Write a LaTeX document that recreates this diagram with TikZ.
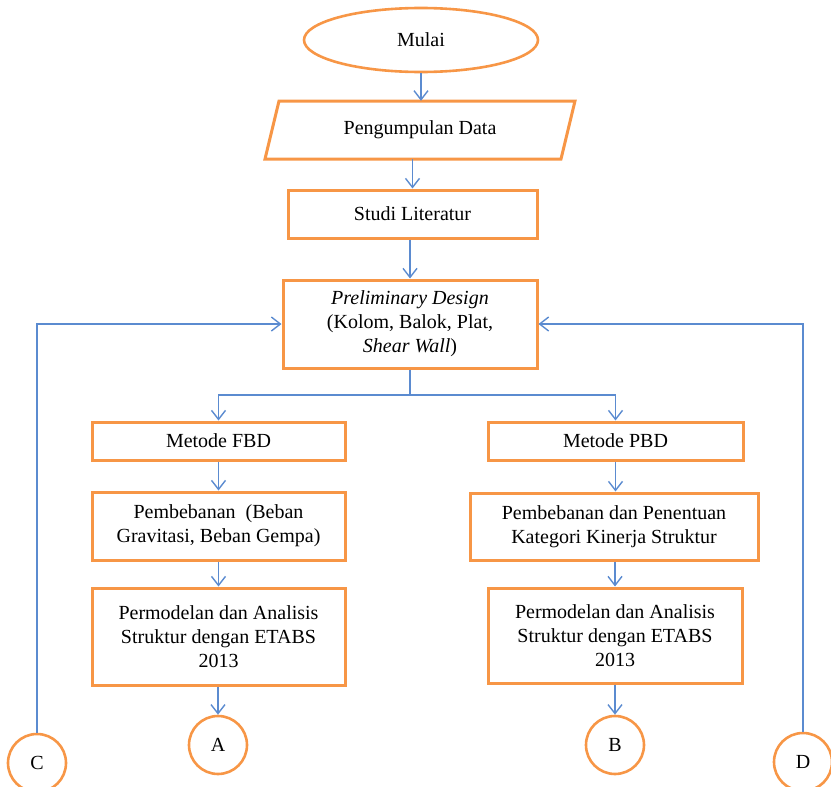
\documentclass[tikz,border=0pt]{standalone}
\usepackage{fontspec}
\setmainfont{Liberation Serif}
\usetikzlibrary{shapes.geometric,arrows.meta}
\definecolor{boxorange}{HTML}{F79646}
\definecolor{lineblue}{HTML}{5B8BD0}
\begin{document}
\begin{tikzpicture}[x=1pt,y=-1pt,
  txt/.style={font=\fontsize{20}{24}\selectfont, align=center, inner sep=0pt},
  box/.style={txt, draw=boxorange, line width=3pt, rectangle},
  term/.style={txt, draw=boxorange, line width=2.6pt, ellipse},
  conn/.style={txt, draw=boxorange, line width=2.6pt, circle, minimum size=58pt},
  flow/.style={draw=lineblue, line width=1.4pt, -{Straight Barb[length=9pt,width=14pt,line width=1.4pt]}},
  plain/.style={draw=lineblue, line width=1.4pt}]
\useasboundingbox (0,0) rectangle (831,787);

\node[term, minimum width=234pt, minimum height=64pt] (mulai) at (421,40) {Mulai};

\node[txt, minimum width=282pt, minimum height=58pt] (data) at (420,130) {Pengumpulan Data};
\draw[boxorange, line width=3pt, line join=miter] (279,101) -- (575,101) -- (561,159) -- (265,159) -- cycle;

\node[box, minimum width=249pt, minimum height=48pt] (studi) at (412.5,214) {Studi Literatur};

\node[box, minimum width=254pt, minimum height=88pt] (prelim) at (410,324)
  {\textit{Preliminary Design}\\(Kolom, Balok, Plat,\\\textit{Shear Wall})};

\node[box, minimum width=253pt, minimum height=38pt] (fbd) at (218.5,441) {Metode FBD};
\node[box, minimum width=253pt, minimum height=68pt] (bebanF) at (218.5,526)
  {Pembebanan~~(Beban\\Gravitasi, Beban Gempa)};
\node[box, minimum width=253pt, minimum height=97pt] (modelF) at (218.5,636.5)
  {Permodelan dan Analisis\\Struktur dengan ETABS\\2013};

\node[box, minimum width=255pt, minimum height=38pt] (pbd) at (615.5,441) {Metode PBD};
\node[box, minimum width=288pt, minimum height=67pt] (bebanP) at (614,526.5)
  {Pembebanan dan Penentuan\\Kategori Kinerja Struktur};
\node[box, minimum width=254pt, minimum height=95pt] (modelP) at (615,635.5)
  {Permodelan dan Analisis\\Struktur dengan ETABS\\2013};

\node[conn] (A) at (218,745) {A};
\node[conn] (B) at (615,745) {B};
\node[conn] (C) at (37,763) {C};
\node[conn] (D) at (803,762) {D};

\coordinate (split) at (410,395);
\coordinate (splitL) at (218.5,395);
\coordinate (splitR) at (615.5,395);

\draw[flow] (mulai.south) -- (mulai.south |- data.north);
\draw[flow] (data.south -| studi.north) -- (studi.north);
\draw[flow] (studi.south -| prelim.north) -- (prelim.north);
\draw[plain] (prelim.south) -- (split);
\draw[flow] (split) -- (splitL) -- (fbd.north);
\draw[flow] (split) -- (splitR) -- (pbd.north);
\draw[flow] (fbd) -- (bebanF);
\draw[flow] (bebanF) -- (modelF);
\draw[flow] (modelF.south -| A.north) -- (A.north);
\draw[flow] (pbd.south) -- (pbd.south |- bebanP.north);
\draw[flow] (bebanP.south -| modelP.north) -- (modelP.north);
\draw[flow] (modelP.south -| B.north) -- (B.north);
\draw[flow] (C.north) |- (prelim.west);
\draw[flow] (D.north) |- (prelim.east);
\end{tikzpicture}
\end{document}
